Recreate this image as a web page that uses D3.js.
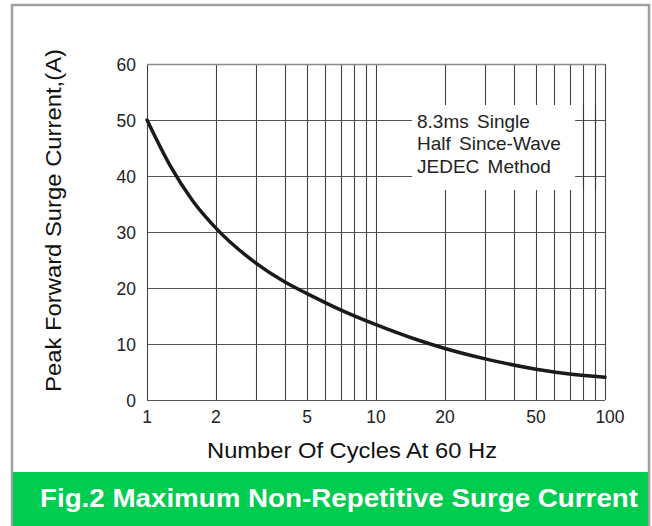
<!DOCTYPE html>
<html><head><meta charset="utf-8">
<script src="https://cdn.jsdelivr.net/npm/d3@7"></script>
<style>body{margin:0;background:#fff}svg{display:block}text{font-family:"Liberation Sans",Arial,sans-serif}</style>
</head><body>
<script>
const cycles = [1, 1.26, 1.585, 2, 3, 4, 5, 7, 10, 15, 20, 30, 50, 70, 100];
const current = [50, 41.9, 35.55, 30.7, 24.4, 21.06, 19.0, 16.1, 13.45, 10.8, 9.2, 7.35, 5.5, 4.65, 4.07];
const xTickLabels = [1, 2, 5, 10, 20, 50, 100];
const xGrid = [1,2,3,4,5,6,7,8,9,10,20,30,40,50,60,70,80,90,100];
const yTicks = [0, 10, 20, 30, 40, 50, 60];
const legendLines = ["8.3ms Single", "Half Since-Wave", "JEDEC Method"];
const xTitle = "Number Of Cycles At 60 Hz";
const yTitle = "Peak Forward Surge Current,(A)";
const banner = "Fig.2 Maximum Non-Repetitive Surge Current";

const W = 652, H = 526;
const svg = d3.select("body").append("svg").attr("width", W).attr("height", H);
const m = {l:147, r:605, t:64, b:400};
const x = d3.scaleLog().domain([1,100]).range([m.l, m.r]);
const y = d3.scaleLinear().domain([0,60]).range([m.b, m.t]);

// outer frame
svg.append("path").attr("d", `M12,526 V5 H649 V526`).attr("fill","none").attr("stroke","#a0a0a0").attr("stroke-width",2.5);

// grid
const g = svg.append("g");
g.selectAll(".vg").data(xGrid).join("line")
  .attr("x1", d=>Math.round(x(d))+0.5).attr("x2", d=>Math.round(x(d))+0.5)
  .attr("y1", m.t).attr("y2", m.b).attr("stroke", "#444").attr("stroke-width", 1.1);
g.selectAll(".hg").data(yTicks).join("line")
  .attr("x1", m.l).attr("x2", m.r)
  .attr("y1", d=>Math.round(y(d))+0.5).attr("y2", d=>Math.round(y(d))+0.5)
  .attr("stroke", d=> d===60 ? "#8a8a8a" : "#555").attr("stroke-width", d=> d===60?1.5:1.1);

// legend box (white mask)
const lx = 412, ly = 105;
svg.append("rect").attr("x", lx).attr("y", ly).attr("width", 163).attr("height", 85).attr("fill","#fff");
svg.append("g").selectAll("text").data(legendLines).join("text")
  .attr("x", 417).attr("y", (d,i)=>127.5 + i*22.5)
  .attr("font-size", 19).attr("fill","#222").attr("word-spacing", 3).text(d=>d);

// redraw 80/90 lines through legend box
g.selectAll(".vg2").data([80,90]).join("line")
  .attr("x1", d=>Math.round(x(d))+0.5).attr("x2", d=>Math.round(x(d))+0.5)
  .attr("y1", ly).attr("y2", ly+85).attr("stroke", "#3a3a3a").attr("stroke-width", 1.1);

// curve
const pts = cycles.map((c,i)=>[c, current[i]]);
const line = d3.line().x(d=>x(d[0])).y(d=>y(d[1])).curve(d3.curveMonotoneX);
svg.append("path").datum(pts).attr("d", line).attr("fill","none")
  .attr("stroke","#1a1a1a").attr("stroke-width",3.5).attr("stroke-linecap","round");

// y tick labels
svg.append("g").selectAll("text").data(yTicks).join("text")
  .attr("x", 136).attr("y", d=>y(d)+6.5).attr("text-anchor","end")
  .attr("font-size", 17.5).attr("fill","#222").text(d=>d);

// x tick labels
svg.append("g").selectAll("text").data(xTickLabels).join("text")
  .attr("x", d=>x(d)+ (d===100?5:0)).attr("y", 423).attr("text-anchor","middle")
  .attr("font-size", 17.5).attr("fill","#222").text(d=>d);

// axis titles
svg.append("text").attr("x", 207).attr("y", 458)
  .attr("font-size", 22).attr("fill","#111")
  .attr("textLength", 290).attr("lengthAdjust","spacingAndGlyphs").text(xTitle);
svg.append("text").attr("transform", "translate(61,392) rotate(-90)")
  .attr("font-size", 22).attr("fill","#111")
  .attr("textLength", 343).attr("lengthAdjust","spacingAndGlyphs").text(yTitle);

// banner
svg.append("rect").attr("x", 13).attr("y", 472).attr("width", 635).attr("height", 54).attr("fill","#00cc4f");
svg.append("text").attr("x", 40).attr("y", 507).attr("font-size", 25).attr("font-weight","bold")
  .attr("fill","#fff").attr("textLength", 598).attr("lengthAdjust","spacingAndGlyphs").text(banner);
</script>
</body></html>
